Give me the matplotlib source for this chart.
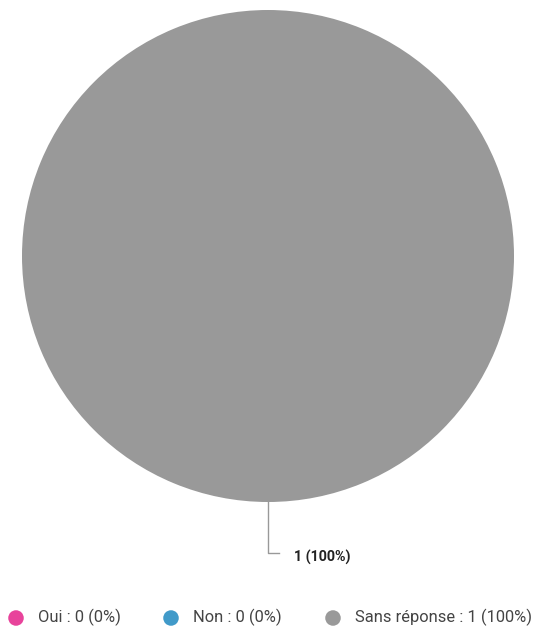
import matplotlib.pyplot as plt

plt.rcParams['font.family'] = ['Roboto', 'DejaVu Sans']

# Data
categories = ['Oui', 'Non', 'Sans réponse']
counts = [0, 0, 1]
colors = ['#e8439b', '#419ac9', '#999999']

total = sum(counts)
pcts = [100 * c / total for c in counts]

fig = plt.figure(figsize=(5.33, 6.27), dpi=100)
ax = fig.add_axes([0, 0, 1, 1])

# pie in pixel-like coordinates
cx, cy, r = 268, 256, 246
ax.pie(counts, colors=colors, center=(cx, cy), radius=r, startangle=90,
       counterclock=False, wedgeprops=dict(linewidth=0))
ax.set_xlim(0, 533)
ax.set_ylim(627, 0)
ax.set_aspect('equal')
ax.axis('off')

# leader line and label for the only non-zero slice
for cat, c, p in zip(categories, counts, pcts):
    if c > 0:
        ax.plot([cx, cx, cx + 11], [cy + r, 553, 553], color='#999999', lw=1)
        ax.text(cx + 26, 557.5, f"{c} ({p:.0f}%)", fontsize=10.3, fontweight='bold',
                color='#222222', va='center', ha='left')

# legend
leg_x = [16, 171, 333]
for x, cat, c, p, col in zip(leg_x, categories, counts, pcts, colors):
    ax.scatter([x], [618], s=125, color=col, edgecolors='none')
    ax.text(x + 22, 617.5, f"{cat} : {c} ({p:.0f}%)", fontsize=11.9,
            color='#444444', va='center', ha='left')

fig.savefig('out.png', dpi=100)
